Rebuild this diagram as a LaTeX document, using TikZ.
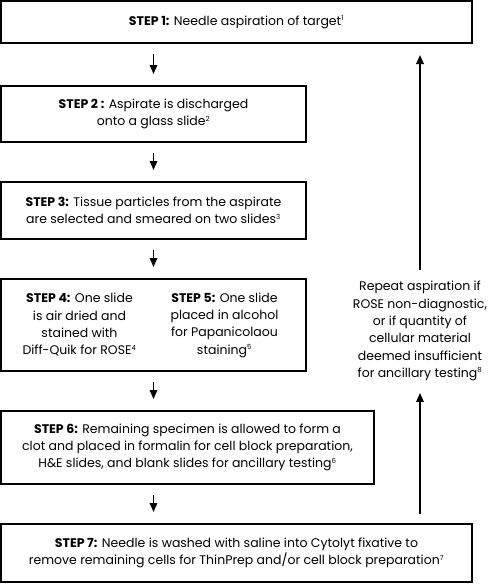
\documentclass[tikz,border=0pt]{standalone}
\usepackage{fontspec}
\setmainfont{Poppins}
\usetikzlibrary{positioning,arrows.meta}
\newcommand{\fnref}[1]{\textsuperscript{\fontsize{7}{7}\selectfont#1}}

\begin{document}
\begin{tikzpicture}[x=1pt,y=-1pt,font=\fontsize{12.5}{17.3}\selectfont]
\tikzset{>={Triangle[width=7.5pt,length=9pt]}}
\tikzset{stepbox/.style={draw,line width=1.8pt,outer sep=0pt,inner sep=0pt,align=center},
  flow/.style={->,line width=1.6pt,shorten <=11pt,shorten >=12pt}}
\useasboundingbox (0,0) rectangle (492,584);
  \node[stepbox,minimum width=471pt,minimum height=42pt,anchor=north west] (step1) at (1,1)
    {\textbf{STEP 1:} Needle aspiration of target\fnref{1}};
  \node[stepbox,minimum width=305pt,minimum height=56pt,below=43pt of step1.south west,anchor=north west] (step2)
    {\textbf{STEP 2 :} Aspirate is discharged\\onto a glass slide\fnref{2}};
  \node[stepbox,minimum width=305pt,minimum height=57pt,below=40pt of step2.south west,anchor=north west] (step3)
    {\textbf{STEP 3:} Tissue particles from the aspirate\\are selected and smeared on two slides\fnref{3}};
  \node[stepbox,minimum width=305pt,minimum height=92pt,below=40pt of step3.south west,anchor=north west] (step45) {};
  \node[align=center,inner sep=0pt] (step4) at ([xshift=-74pt]step45.center)
    {\textbf{STEP 4:} One slide\\is air dried and\\stained with\\Diff-Quik for ROSE\fnref{4}};
  \node[align=center,inner sep=0pt] (step5) at ([xshift=71pt]step45.center)
    {\textbf{STEP 5:} One slide\\placed in alcohol\\for Papanicolaou\\staining\fnref{5}};
  \node[stepbox,minimum width=373pt,minimum height=73pt,below=40pt of step45.south west,anchor=north west] (step6)
    {\textbf{STEP 6:} Remaining specimen is allowed to form a\\clot and placed in formalin for cell block preparation,\\H\&E slides, and blank slides for ancillary testing\fnref{6}};
  \node[stepbox,minimum width=471pt,minimum height=58pt,below=40pt of step6.south west,anchor=north west] (step7)
    {\textbf{STEP 7:} Needle is washed with saline into Cytolyt fixative to\\remove remaining cells for ThinPrep and/or cell block preparation\fnref{7}};
  \node[align=center,inner sep=0pt] (repeat) at (420,331)
    {Repeat aspiration if\\ROSE non-diagnostic,\\or if quantity of\\cellular material\\deemed insufficient\\for ancillary testing\fnref{8}};
  % main flow
  \draw[flow] (step2.north |- step1.south) -- (step2.north);
  \draw[flow] (step2.south) -- (step3.north);
  \draw[flow] (step3.south) -- (step45.north);
  \draw[flow] (step45.south) -- (step45.south |- step6.north);
  \draw[flow] (step45.south |- step6.south) -- (step45.south |- step7.north);
  % loop back
  \draw[flow] (repeat.north) -- (repeat.north |- step1.south);
  \draw[flow,shorten <=10pt] (repeat.south |- step7.north) -- (repeat.south);
\end{tikzpicture}
\end{document}
